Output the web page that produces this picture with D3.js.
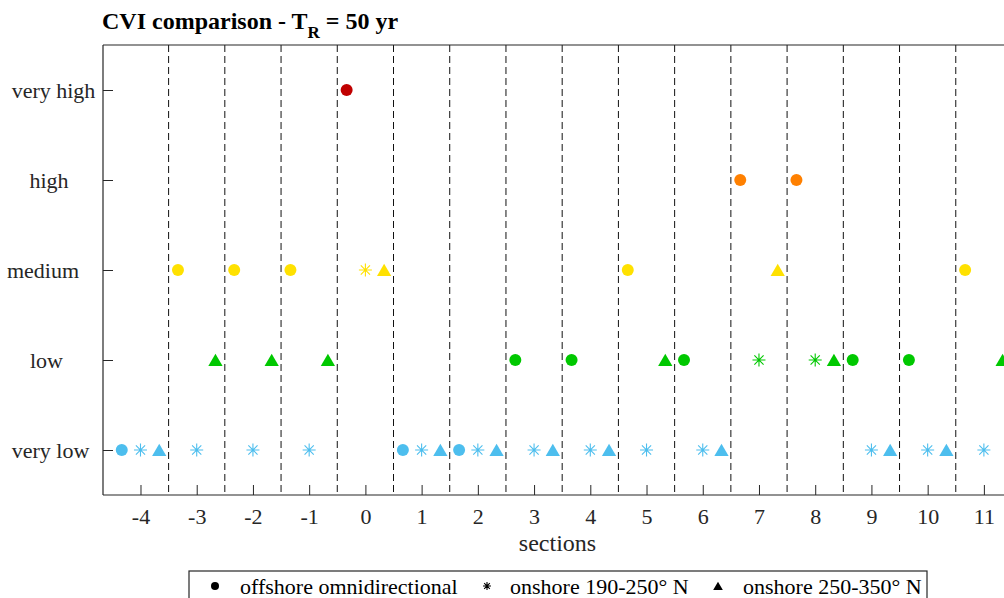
<!DOCTYPE html>
<html>
<head>
<meta charset="utf-8">
<script src="https://cdn.jsdelivr.net/npm/d3@7"></script>
<style>
  html, body { margin: 0; padding: 0; background: #fff; overflow: hidden; }
  svg { display: block; font-family: "Liberation Serif", "Times New Roman", serif; }
</style>
</head>
<body>
<svg id="chart" width="1004" height="598"></svg>
<script>
// Coastal vulnerability index per coastal section, three wave-climate scenarios
const sections = [-4, -3, -2, -1, 0, 1, 2, 3, 4, 5, 6, 7, 8, 9, 10, 11];
const levelLabels = ["very low", "low", "medium", "high", "very high"];
const levelColors = ["#4DBEEE", "#00C800", "#FFE100", "#FF8000", "#C00000"];

// class index 1..5 (very low .. very high); null = no value
const offshoreOmni   = [1, 3, 3, 3, 5, 1, 1, 2, 2, 3, 2, 4, 4, 2, 2, 3];
const onshore190_250 = [1, 1, 1, 1, 3, 1, 1, 1, 1, 1, 1, 2, 2, 1, 1, 1];
const onshore250_350 = [1, 2, 2, 2, 3, 1, 1, 1, 1, 2, 1, 3, 2, 1, 1, 2];

const seriesNames = ["offshore omnidirectional", "onshore 190-250\u00B0 N", "onshore 250-350\u00B0 N"];
const seriesOffsets = [-1 / 3, 0, 1 / 3];

// horizontal centre of each class label, measured from the axis line
const levelLabelShift = [-52.5, -56.5, -60, -54, -49.5];

const svg = d3.select("#chart");
const plotLeft = 103, plotTop = 45, plotBottom = 495, plotRight = 1012;

const x = d3.scaleLinear().domain([-14 / 3, 11.5]).range([plotLeft, plotRight]);
const y = d3.scaleLinear().domain([0.5, 5.5]).range([plotBottom, plotTop]);

const axisColor = "#262626";

// section separators
const separators = d3.range(-3.5, 11.6, 1);
svg.append("g").selectAll("line").data(separators).join("line")
  .attr("x1", d => x(d)).attr("x2", d => x(d))
  .attr("y1", plotTop).attr("y2", plotBottom)
  .attr("stroke", "#111").attr("stroke-width", 1)
  .attr("stroke-dasharray", "7,4");

// axes box
const xAxis = d3.axisBottom(x).tickValues(sections).tickSize(-10).tickPadding(13)
  .tickFormat(d => String(d));
const gx = svg.append("g").attr("transform", `translate(0,${plotBottom})`).call(xAxis);
const yAxis = d3.axisLeft(y).tickValues([1, 2, 3, 4, 5]).tickSize(-10).tickPadding(9)
  .tickFormat(d => levelLabels[d - 1]);
const gy = svg.append("g").attr("transform", `translate(${plotLeft},0)`).call(yAxis);

[gx, gy].forEach(g => {
  g.select(".domain").attr("stroke", axisColor).attr("stroke-width", 1.2);
  g.selectAll(".tick line").attr("stroke", axisColor).attr("stroke-width", 1);
  g.selectAll(".tick text").attr("fill", "#262626")
    .style("font-family", "Liberation Serif, Times New Roman, serif")
    .style("font-size", "22px");
});
gy.selectAll(".tick text")
  .attr("text-anchor", "middle")
  .attr("x", d => levelLabelShift[d - 1]);
gx.select(".domain").attr("d", `M${plotLeft},0H${plotRight}`);
gy.select(".domain").attr("d", `M0,${plotBottom}V${plotTop}`);
// top border
svg.append("line").attr("x1", plotLeft).attr("x2", plotRight).attr("y1", plotTop).attr("y2", plotTop)
  .attr("stroke", axisColor).attr("stroke-width", 1.2);

// marker shapes
function circlePath(s) { return d3.symbol(d3.symbolCircle, Math.PI * s * s)(); }
function trianglePath(s) { return `M0,${-s * 1.0}L${s * 1.15},${s * 0.95}L${-s * 1.15},${s * 0.95}Z`; }
function starPath(s) {
  const d = s * Math.SQRT1_2;
  return `M${-s},0L${s},0M0,${-s}L0,${s}M${-d},${-d}L${d},${d}M${-d},${d}L${d},${-d}`;
}

function drawMarker(g, kind, size, color) {
  if (kind === 0) g.append("path").attr("d", circlePath(size)).attr("fill", color);
  else if (kind === 1) g.append("path").attr("d", starPath(size)).attr("fill", "none")
    .attr("stroke", color).attr("stroke-width", 1.1);
  else g.append("path").attr("d", trianglePath(size)).attr("fill", color);
}

const series = [offshoreOmni, onshore190_250, onshore250_350];
const markerSizes = [6, 6.5, 6.2];
const plot = svg.append("g");
series.forEach((vals, k) => {
  vals.forEach((v, i) => {
    if (v == null) return;
    const g = plot.append("g")
      .attr("transform", `translate(${x(sections[i] + seriesOffsets[k])},${y(v)})`);
    drawMarker(g, k, markerSizes[k], levelColors[v - 1]);
  });
});

// title
const title = svg.append("text").attr("x", plotLeft - 1).attr("y", 29)
  .attr("font-weight", "bold").attr("font-size", 24).attr("fill", "#000");
title.append("tspan").text("CVI comparison - T");
title.append("tspan").attr("font-size", 17).attr("dy", 9).text("R");
title.append("tspan").attr("dy", -9).text(" = 50 yr");

// x label
svg.append("text").attr("x", (x(-14 / 3) + x(11.5)) / 2).attr("y", 551)
  .attr("text-anchor", "middle").attr("font-size", 24).attr("fill", "#262626")
  .text("sections");

// legend
const legX = 189, legY = 571, legW = 738, legH = 40;
svg.append("rect").attr("x", legX).attr("y", legY).attr("width", legW).attr("height", legH)
  .attr("fill", "#fff").attr("stroke", axisColor).attr("stroke-width", 1.2);
const legItems = [
  { mx: 215, tx: 240 },
  { mx: 487, tx: 510 },
  { mx: 718, tx: 743 }
];
const legSizes = [4, 4, 4.2];
legItems.forEach((it, k) => {
  const g = svg.append("g").attr("transform", `translate(${it.mx},${legY + 15})`);
  drawMarker(g, k, legSizes[k], "#000");
  svg.append("text").attr("x", it.tx).attr("y", legY + 23).attr("font-size", 22)
    .attr("fill", "#000").text(seriesNames[k]);
});
</script>
</body>
</html>
